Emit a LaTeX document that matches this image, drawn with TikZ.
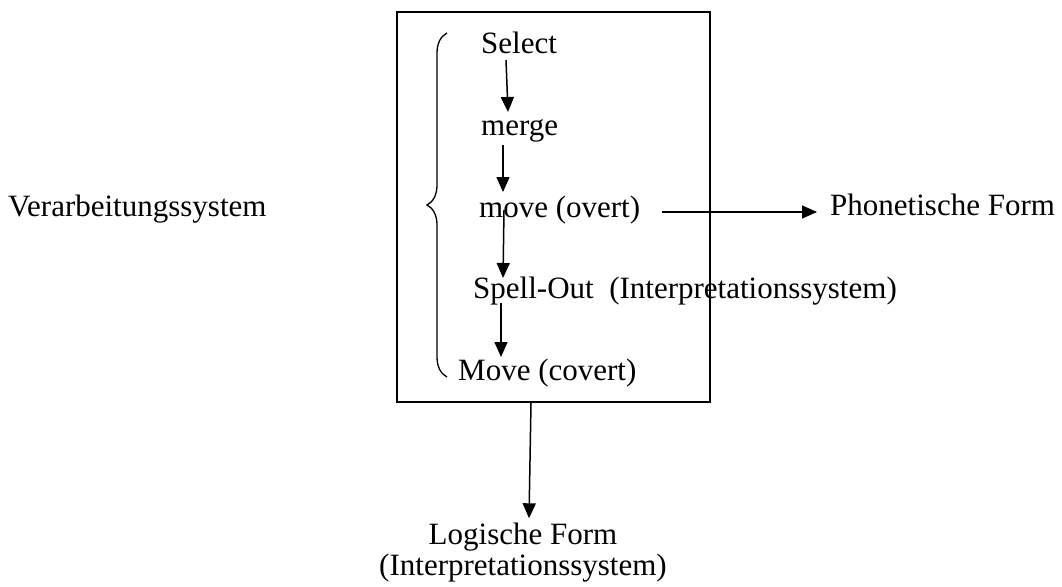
\documentclass[tikz,border=0pt]{standalone}
\usepackage{fontspec}
\setmainfont{Liberation Serif}
\usetikzlibrary{arrows.meta,decorations.pathreplacing}
\tikzstyle{txt}=[anchor=base west, inner sep=0pt, font=\fontsize{31}{31}\selectfont]
\tikzstyle{pfeil}=[draw, line width=1.5pt, -{Triangle[length=15pt,width=13pt]}]

\begin{document}
\begin{tikzpicture}[x=1pt, y=-1pt]
\useasboundingbox (0,0) rectangle (1062,586);
\node[draw, line width=1.5pt, minimum width=313pt, minimum height=390pt, inner sep=0pt] (kasten) at (553.5,207) {};
\draw[line width=1.3pt, decorate, decoration={brace, amplitude=20pt}] (447,377) -- (447,33);
\node[txt] (verarb) at (8,216) {Verarbeitungssystem};
\node[txt] (select) at (481,53) {Select};
\node[txt] (merge) at (481,135) {merge};
\node[txt] (moveo) at (479,217) {move (overt)};
\node[txt] (spell) at (473,298) {Spell-Out\ \ (Interpretationssystem)};
\node[txt] (movec) at (458,380) {Move (covert)};
\node[txt] (pf) at (830,215) {Phonetische Form};
\node[txt, anchor=base, align=center] (lf) at (523,575) {Logische Form\\(Interpretationssystem)};
\path[pfeil] ([xshift=25pt,yshift=-7pt]select.base west) -- ([xshift=27pt,yshift=23pt]merge.base west);
\path[pfeil] ([xshift=22pt,yshift=-10pt]merge.base west) -- ([xshift=24pt,yshift=25pt]moveo.base west);
\path[pfeil] ([xshift=25pt,yshift=7pt]moveo.base west) -- ([xshift=30pt,yshift=20pt]spell.base west);
\path[pfeil] ([xshift=28pt,yshift=-5pt]spell.base west) -- ([xshift=43pt,yshift=23pt]movec.base west);
\path[pfeil] ([xshift=22pt,yshift=5pt]moveo.base east) -- ([xshift=-13pt,yshift=3pt]pf.base west);
\path[pfeil] ([xshift=-22.5pt]kasten.south) -- ([xshift=6pt,yshift=4pt]lf.north);
\end{tikzpicture}
\end{document}
